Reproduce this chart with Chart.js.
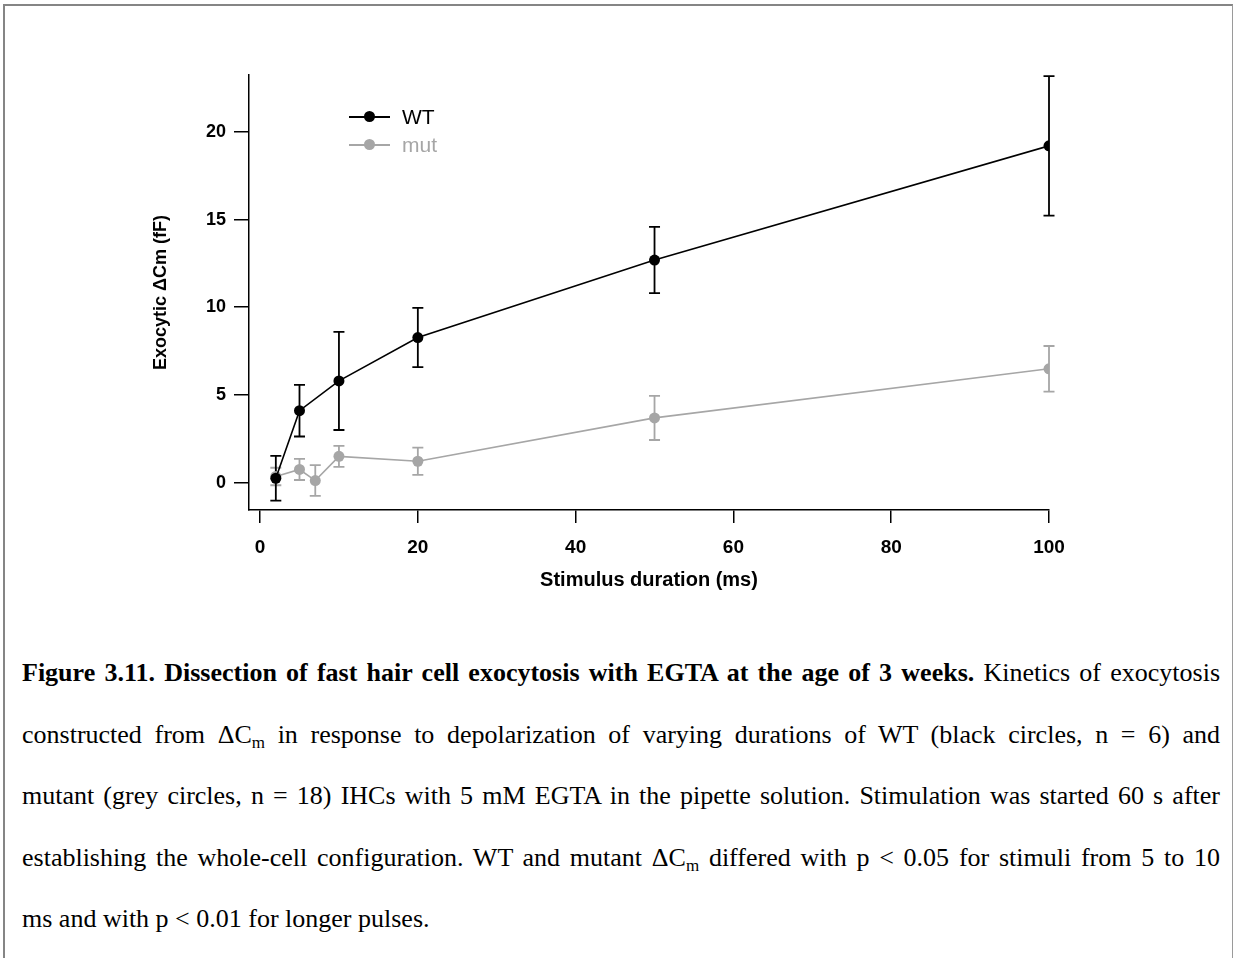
<!DOCTYPE html>
<html>
<head>
<meta charset="utf-8">
<script src="https://cdn.jsdelivr.net/npm/chart.js@4.4.1/dist/chart.umd.min.js"></script>
<style>
  body { margin: 0; background: #fff; width: 1235px; height: 958px; overflow: hidden; position: relative;
         font-family: "Liberation Sans", Arial, sans-serif; }
  .frame { position: absolute; left: 3px; top: 4px; width: 1227px; height: 1000px;
           border-top: 2px solid #858585; border-left: 2px solid #858585; border-right: 1px solid #9a9a9a; }
  #chart { position: absolute; left: 0; top: 0; }
  .legend { position: absolute; left: 349px; top: 103px; font-size: 21px; }
  .legend div { position: relative; height: 28px; line-height: 28px; padding-left: 53px; }
  .legend .ln { position: absolute; left: 0; top: 13px; width: 41px; height: 2px; }
  .legend .dot { position: absolute; left: 15px; top: 8px; width: 11px; height: 11px; border-radius: 50%; }
  .caption { position: absolute; left: 22px; top: 642px; width: 1198px; color: #000;
             font-family: "Liberation Serif", "Times New Roman", serif; font-size: 26px; line-height: 61.5px; }
  .caption div { text-align: justify; text-align-last: justify; white-space: nowrap; }
  .caption div.last { text-align-last: left; }
  sub { font-size: 17px; vertical-align: -5px; line-height: 0; }
</style>
</head>
<body>
<div class="frame"></div>
<canvas id="chart" width="1235" height="640"></canvas>
<div class="legend" id="legend"></div>
<div class="caption">
  <div><b>Figure 3.11. Dissection of fast hair cell exocytosis with EGTA at the age of 3 weeks.</b> Kinetics of exocytosis</div>
  <div>constructed from ΔC<sub>m</sub> in response to depolarization of varying durations of WT (black circles, n = 6) and</div>
  <div>mutant (grey circles, n = 18) IHCs with 5 mM EGTA in the pipette solution. Stimulation was started 60 s after</div>
  <div>establishing the whole-cell configuration. WT and mutant ΔC<sub>m</sub> differed with p &lt; 0.05 for stimuli from 5 to 10</div>
  <div class="last">ms and with p &lt; 0.01 for longer pulses.</div>
</div>
<script>
// stimulus durations (ms) and mean ± error of the capacitance jump (fF)
const wtDurations = [2, 5, 10, 20, 50, 100];
const wtMean = [0.25, 4.1, 5.8, 8.27, 12.69, 19.2];
const wtErr = [1.28, 1.47, 2.8, 1.69, 1.89, 3.98];

const mutDurations = [2, 5, 7, 10, 20, 50, 100];
const mutMean = [0.35, 0.75, 0.12, 1.5, 1.22, 3.69, 6.49];
const mutErr = [0.5, 0.6, 0.88, 0.6, 0.78, 1.26, 1.3];

const xTicks = [0, 20, 40, 60, 80, 100];
const yTicks = [0, 5, 10, 15, 20];

const seriesNames = ['WT', 'mut'];
const seriesColors = ['#000000', '#a6a6a6'];

Chart.defaults.font.family = "'Liberation Sans', Arial, sans-serif";
Chart.defaults.color = '#000';

// error bars, drawn from the same scales as the points
const errorBars = {
  id: 'errorBars',
  beforeDatasetsDraw(chart) {
    const { ctx, scales: { x, y } } = chart;
    [1, 0].forEach(i => {
      const ds = chart.data.datasets[i];
      ctx.save();
      ctx.strokeStyle = ds.borderColor;
      ctx.lineWidth = 1.8;
      ds.data.forEach((p, j) => {
        const px = x.getPixelForValue(p.x);
        const top = y.getPixelForValue(p.y + ds.errors[j]);
        const bot = y.getPixelForValue(p.y - ds.errors[j]);
        ctx.beginPath();
        ctx.moveTo(px, top); ctx.lineTo(px, bot);
        ctx.moveTo(px - 5.5, top); ctx.lineTo(px + 5.5, top);
        ctx.moveTo(px - 5.5, bot); ctx.lineTo(px + 5.5, bot);
        ctx.stroke();
      });
      ctx.restore();
    });
  }
};

const axisLine = { color: '#000', width: 1.5 };

new Chart(document.getElementById('chart'), {
  type: 'line',
  data: {
    datasets: [
      {
        label: seriesNames[0],
        data: wtDurations.map((d, i) => ({ x: d, y: wtMean[i] })),
        errors: wtErr,
        borderColor: seriesColors[0],
        backgroundColor: seriesColors[0],
        borderWidth: 1.6,
        pointRadius: 5.5,
        pointBorderWidth: 0,
        tension: 0
      },
      {
        label: seriesNames[1],
        data: mutDurations.map((d, i) => ({ x: d, y: mutMean[i] })),
        errors: mutErr,
        borderColor: seriesColors[1],
        backgroundColor: seriesColors[1],
        borderWidth: 1.6,
        pointRadius: 5.5,
        pointBorderWidth: 0,
        tension: 0
      }
    ]
  },
  options: {
    responsive: false,
    animation: false,
    devicePixelRatio: 1,
    layout: { padding: { left: 149, right: 186, top: 75, bottom: 40 } },
    plugins: { legend: { display: false }, tooltip: { enabled: false } },
    scales: {
      x: {
        type: 'linear',
        min: -1.4,
        max: 100,
        afterBuildTicks: s => { s.ticks = xTicks.map(v => ({ value: v })); },
        afterFit: s => { s.height = 90; },
        grid: { drawOnChartArea: false, color: '#000', lineWidth: 1.5, tickLength: 13 },
        border: axisLine,
        ticks: { color: '#000', padding: 13, maxRotation: 0, autoSkip: false,
                 font: { size: 19, weight: 'bold' } },
        title: { display: true, text: 'Stimulus duration (ms)', color: '#000',
                 font: { size: 20, weight: 'bold' }, padding: { top: 0, bottom: 8 } }
      },
      y: {
        min: -1.56,
        max: 23.24,
        afterBuildTicks: s => { s.ticks = yTicks.map(v => ({ value: v })); },
        afterFit: s => { s.width = 100; },
        grid: { drawOnChartArea: false, color: '#000', lineWidth: 1.5, tickLength: 15 },
        border: axisLine,
        ticks: { color: '#000', padding: 8, font: { size: 18, weight: 'bold' } },
        title: { display: true, text: 'Exocytic ΔCm (fF)', color: '#000',
                 font: { size: 18, weight: 'bold' }, padding: { top: 1, bottom: 0 } }
      }
    }
  },
  plugins: [errorBars]
});

// legend in the upper left of the plot
const legendEl = document.getElementById('legend');
seriesNames.forEach((name, i) => {
  const row = document.createElement('div');
  row.style.color = seriesColors[i];
  row.innerHTML = `<span class="ln" style="background:${seriesColors[i]}"></span>` +
                  `<span class="dot" style="background:${seriesColors[i]}"></span>${name}`;
  legendEl.appendChild(row);
});
</script>
</body>
</html>
